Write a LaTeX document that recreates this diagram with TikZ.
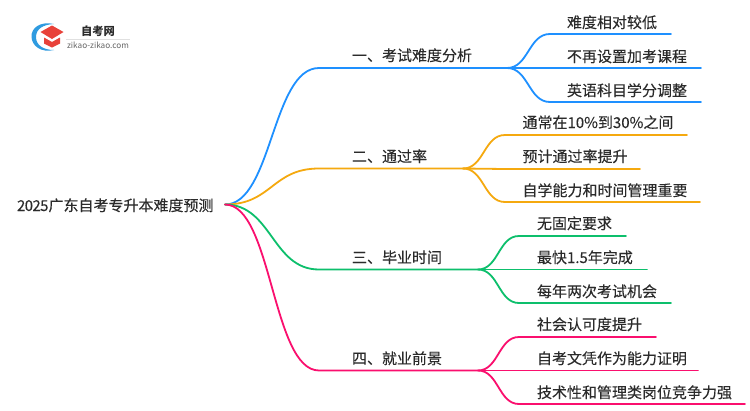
\documentclass[tikz,border=0pt]{standalone}
\usepackage{fontspec}
\setmainfont[FakeBold=0.12]{Noto Sans CJK SC}
\newfontfamily\logofont{Noto Sans CJK SC}
\definecolor{cblue}{HTML}{1E90FF}
\definecolor{corange}{HTML}{F5A90F}
\definecolor{cgreen}{HTML}{0DBF6C}
\definecolor{cpink}{HTML}{FA0F6E}
\definecolor{ctext}{HTML}{2B2B2B}
\definecolor{lred}{HTML}{E8423A}
\definecolor{lblue}{HTML}{2F9BE0}
\tikzset{
  lbl/.style={anchor=base west,inner sep=0pt,outer sep=0pt,text=ctext,font=\fontsize{15}{15}\selectfont},
  wire/.style={line width=1.8pt,line cap=round},
}
\begin{document}
\begin{tikzpicture}[x=1pt,y=-1pt]
\useasboundingbox (0,0) rectangle (750,410);
\fill[white] (0,0) rectangle (750,410);
% logo
\fill[lblue] (54,24) .. controls (40,21) and (31,28) .. (31.5,37) .. controls (32,46) and (41,53) .. (54,50)
  .. controls (43,50) and (36,45) .. (36,37) .. controls (36,29) and (43,24.5) .. (54,24) -- cycle;
\fill[lred] (52,25.5) -- (63.5,32) -- (52,39) -- (40.5,32) -- cycle;
\fill[lred] (44,37.5) -- (52,42) -- (60,37.5) -- (60,43.5) -- (52,47.5) -- (44,43.5) -- cycle;
\node[inner sep=0pt,text=ctext,font=\logofont\fontsize{11.3}{11.3}\selectfont\bfseries] (logotitle) at (98,31) {自考网};
\node[inner sep=0pt,text=black!60,font=\logofont\fontsize{8.2}{8.2}\selectfont] (logourl) at (98,45) {zikao-zikao.com};
\coordinate (ruleA) at (66,39);
\coordinate (ruleB) at (130,39);
\draw[black!12,line width=0.6pt] (ruleA) -- (ruleB);
% root
\node[lbl] (root) at (17,211) {2\kern-.6pt 0\kern-.6pt 2\kern-.6pt 5广东自考专升本难度预测};
\coordinate (rootout) at (225,204.5);
% branch labels
\node[lbl] (b1) at (352,61) {一、考试难度分析};
\node[lbl] (b2) at (352,162) {二、通过率};
\node[lbl] (b3) at (352,263) {三、毕业时间};
\node[lbl] (b4) at (352,364) {四、就业前景};
% leaves
\node[lbl] (l11) at (567,28) {难度相对较低};
\node[lbl] (l12) at (567,62) {不再设置加考课程};
\node[lbl] (l13) at (567,96) {英语科目学分调整};
\node[lbl] (l21) at (522.5,128) {通常在10\%到30\%之间};
\node[lbl] (l22) at (522.5,162) {预计通过率提升};
\node[lbl] (l23) at (522.5,196) {自学能力和时间管理重要};
\node[lbl] (l31) at (537,229) {无固定要求};
\node[lbl] (l32) at (537,263) {最快1.5年完成};
\node[lbl] (l33) at (537,297) {每年两次考试机会};
\node[lbl] (l41) at (537,330) {社会认可度提升};
\node[lbl] (l42) at (537,364) {自考文凭作为能力证明};
\node[lbl] (l43) at (537,398) {技术性和管理类岗位竞争力强};
% coordinates: branch start / fork
\foreach \n/\xa/\xb/\y in {1/319/507/68,2/319/463/168.5,3/319/478/269.5,4/319/478/370.5}{
  \coordinate (s\n) at (\xa,\y);
  \coordinate (f\n) at (\xb,\y);
}
% coordinates: leaf start / end
\foreach \n/\xa/\xb/\y in {
 11/550/671/34,12/550/701/68,13/550/701/102,
 21/505/687/135,22/505/640/169,23/505/700/202,
 31/519/626/236,32/519/647/269.5,33/519/671/303,
 41/519/656/337,42/519/698/370.5,43/519/745/404}{
  \coordinate (a\n) at (\xa,\y);
  \coordinate (e\n) at (\xb,\y);
}
% connectors
\foreach \n/\c/\cx in {1/cblue/272,2/corange/272,3/cgreen/272,4/cpink/272}{
  \draw[wire,\c] (rootout) .. controls (\cx,204.5) and (\cx,0|-s\n) .. (s\n) -- (f\n);
}
\foreach \g/\c/\cx in {1/cblue/528.5,2/corange/484,3/cgreen/498.5,4/cpink/498.5}{
  \foreach \k in {1,2,3}{
    \draw[wire,\c] (f\g) .. controls (\cx,0|-f\g) and (\cx,0|-a\g\k) .. (a\g\k) -- (e\g\k);
  }
}
\end{tikzpicture}
\end{document}
